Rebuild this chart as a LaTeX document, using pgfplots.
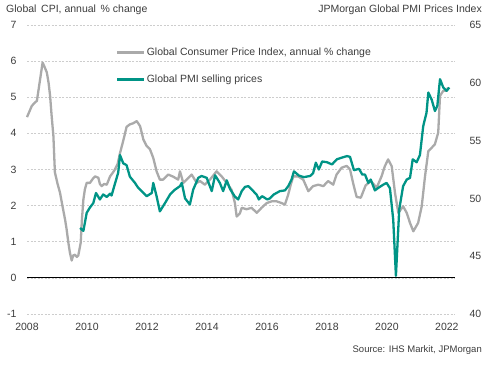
\documentclass[border=0pt]{standalone}
\usepackage{fontspec}
\setmainfont{Liberation Sans}
\usepackage{pgfplots}
\usepackage{pgfplotstable}
\pgfplotsset{compat=1.18}
\definecolor{cpigray}{RGB}{170,170,170}
\definecolor{pmiteal}{RGB}{0,148,134}
\definecolor{gridgray}{RGB}{205,205,205}
\definecolor{textgray}{RGB}{60,60,60}

\pgfplotstableread{
year cpi
2008.00 4.45
2008.16 4.76
2008.27 4.86
2008.33 4.90
2008.52 5.96
2008.58 5.85
2008.66 5.69
2008.72 5.40
2008.77 5.04
2008.82 4.50
2008.88 3.93
2008.93 2.92
2009.02 2.60
2009.10 2.36
2009.18 2.00
2009.27 1.61
2009.32 1.35
2009.38 0.97
2009.43 0.70
2009.49 0.48
2009.54 0.62
2009.60 0.64
2009.66 0.58
2009.71 0.62
2009.79 0.97
2009.83 1.60
2009.88 2.17
2009.93 2.45
2009.99 2.63
2010.10 2.63
2010.20 2.75
2010.27 2.81
2010.38 2.77
2010.43 2.60
2010.49 2.54
2010.57 2.60
2010.66 2.58
2010.77 2.81
2010.85 2.90
2010.93 3.00
2011.02 3.15
2011.10 3.45
2011.21 3.80
2011.32 4.18
2011.43 4.25
2011.54 4.28
2011.66 4.34
2011.77 4.20
2011.88 3.83
2011.99 3.65
2012.10 3.56
2012.21 3.32
2012.32 2.95
2012.43 2.72
2012.54 2.72
2012.71 2.86
2012.88 2.80
2013.04 2.72
2013.10 2.95
2013.21 2.63
2013.38 2.77
2013.49 2.86
2013.66 2.63
2013.77 2.68
2013.93 2.58
2014.10 2.72
2014.32 2.95
2014.49 2.81
2014.66 2.63
2014.82 2.44
2014.93 2.08
2014.99 1.70
2015.10 1.79
2015.16 1.94
2015.32 1.90
2015.49 1.94
2015.66 1.80
2015.82 1.94
2015.99 2.07
2016.16 2.12
2016.32 2.12
2016.49 2.07
2016.60 2.03
2016.71 2.31
2016.80 2.60
2016.88 2.81
2017.04 2.81
2017.21 2.72
2017.38 2.40
2017.54 2.54
2017.71 2.58
2017.88 2.54
2018.04 2.68
2018.21 2.58
2018.32 2.86
2018.49 3.05
2018.66 3.10
2018.77 3.00
2018.88 2.60
2018.99 2.24
2019.13 2.22
2019.29 2.56
2019.46 2.68
2019.66 2.50
2019.82 2.81
2019.93 3.09
2020.04 3.28
2020.16 3.09
2020.27 2.35
2020.38 1.80
2020.54 1.98
2020.66 1.80
2020.77 1.52
2020.88 1.29
2021.04 1.52
2021.16 1.98
2021.27 2.81
2021.38 3.51
2021.49 3.60
2021.60 3.70
2021.71 4.02
2021.77 5.04
2021.88 5.18
2021.99 5.18
2022.04 5.27
}\cpitable

\pgfplotstableread{
year pmi
2009.77 47.44
2009.88 47.19
2009.99 48.75
2010.10 49.22
2010.21 49.59
2010.30 50.47
2010.43 49.91
2010.54 50.34
2010.66 50.13
2010.77 50.41
2010.82 50.25
2010.93 51.25
2011.04 52.22
2011.10 53.75
2011.21 53.03
2011.32 52.88
2011.43 51.88
2011.60 51.34
2011.71 50.91
2011.82 50.63
2011.99 50.19
2012.16 50.47
2012.21 51.34
2012.32 50.19
2012.43 48.88
2012.60 49.59
2012.77 50.34
2012.93 50.75
2013.10 51.06
2013.16 51.34
2013.27 50.00
2013.43 49.47
2013.54 50.75
2013.71 51.78
2013.82 51.94
2013.99 51.78
2014.16 50.63
2014.27 52.00
2014.43 51.34
2014.54 50.63
2014.66 51.56
2014.77 50.81
2014.93 50.16
2015.04 49.91
2015.16 50.63
2015.27 51.00
2015.38 51.06
2015.49 50.78
2015.66 50.31
2015.73 49.91
2015.84 50.19
2016.01 49.91
2016.10 50.00
2016.23 50.34
2016.43 50.63
2016.60 50.69
2016.71 51.06
2016.82 51.63
2016.90 52.34
2017.07 51.97
2017.23 51.84
2017.44 51.94
2017.54 52.19
2017.63 53.09
2017.73 52.50
2017.84 53.19
2018.00 53.13
2018.17 52.94
2018.33 53.38
2018.50 53.53
2018.67 53.66
2018.77 53.59
2018.90 52.44
2019.07 52.56
2019.18 52.06
2019.27 52.06
2019.38 51.34
2019.46 51.63
2019.60 50.69
2019.71 50.91
2019.88 51.19
2019.99 51.34
2020.10 50.88
2020.21 48.16
2020.30 43.30
2020.41 49.03
2020.54 51.06
2020.66 51.63
2020.77 51.78
2020.86 53.38
2020.99 53.13
2021.10 53.75
2021.21 56.25
2021.32 57.41
2021.38 59.16
2021.49 58.56
2021.60 57.56
2021.68 58.00
2021.77 60.31
2021.88 59.59
2021.99 59.31
2022.08 59.59
}\pmitable

\begin{document}
\begin{tikzpicture}
\pgfplotsset{
  common/.style={
    at={(0pt,0pt)}, anchor=south west,
    scale only axis, width=428pt, height=289pt,
    xmin=2008, xmax=2022.27,
    axis line style={draw=none},
    major tick length=0pt,
    /pgf/number format/1000 sep={},
    /pgf/number format/assume math mode=true,
    tick label style={font=\fontsize{10.5}{12}\selectfont, text=textgray},
    clip=false,
  }
}
\begin{axis}[common,
  ymin=-1, ymax=7, ytick={-1,0,...,7},
  xtick={2008,2010,...,2022},
  ymajorgrids,
  grid style={dash pattern=on 2pt off 1.5pt, color=gridgray, line width=0.6pt},
  yticklabel style={xshift=-7pt},
  xticklabel style={yshift=-6pt},
]
\draw[black, line width=1pt] (axis cs:2008,0) -- (axis cs:2022.27,0);
\addplot[cpigray, line width=2.3pt, line join=round] table[x=year, y=cpi] {\cpitable};
\end{axis}
\begin{axis}[common,
  ymin=40, ymax=65, ytick={40,45,...,65},
  axis y line*=right, axis x line=none,
  yticklabel style={xshift=11pt},
  legend style={at={(0.2079,0.858)}, anchor=west, draw=none, fill=none,
    font=\fontsize{10.5}{12}\selectfont, text=textgray, row sep=16pt,
    inner sep=0pt, nodes={inner sep=1pt}},
  legend cell align=left,
  legend image code/.code={\draw[#1, line width=2.6pt] (0pt,0pt) -- (27pt,0pt);},
]
\addlegendimage{cpigray}
\addlegendentry{Global Consumer Price Index, annual \% change}
\addplot[pmiteal, line width=2.3pt, line join=round] table[x=year, y=pmi] {\pmitable};
\addlegendentry{Global PMI selling prices}
\end{axis}
\node[anchor=west, inner sep=0pt, text=textgray, font=\fontsize{10.5}{12}\selectfont] at (-21pt,304pt) {Global\, CPI, annual\, \% change};
\node[anchor=east, inner sep=0pt, text=textgray, font=\fontsize{10.5}{12}\selectfont] at (455pt,304pt) {JPMorgan Global PMI Prices Index};
\node[anchor=east, inner sep=0pt, text=textgray, font=\fontsize{9.5}{11}\selectfont] at (455pt,-36pt) {Source: IHS Markit, JPMorgan};
\pgfresetboundingbox
\path[use as bounding box] (-27pt,-53pt) rectangle (467pt,314pt);
\end{tikzpicture}
\end{document}
